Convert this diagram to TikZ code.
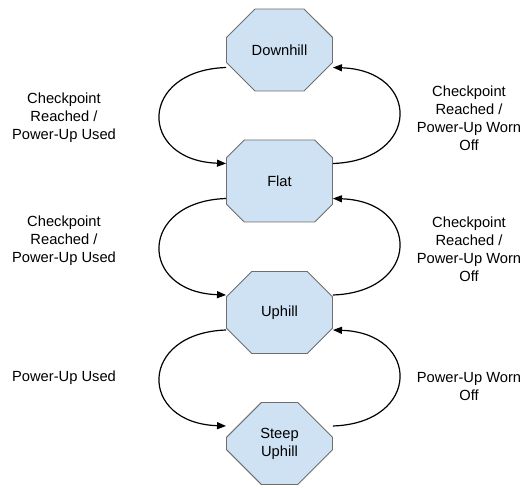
\documentclass[tikz,border=0pt]{standalone}
\usepackage{fontspec}
\setmainfont{Liberation Sans}
\usetikzlibrary{shapes.misc,arrows.meta}
\definecolor{statefill}{HTML}{CFE2F3}
\definecolor{stateedge}{HTML}{6E6E6E}
\begin{document}
\begin{tikzpicture}[x=1pt,y=1pt,
  state/.style={chamfered rectangle, chamfered rectangle xsep=23pt,
    chamfered rectangle ysep=23pt, minimum width=106pt, minimum height=82pt,
    inner sep=0pt, fill=statefill, draw=stateedge, line width=0.9pt,
    align=center, font=\fontsize{14.7}{18}\selectfont},
  lbl/.style={align=center, inner sep=0pt, font=\fontsize{14.7}{18}\selectfont},
  trans/.style={line width=1.2pt, -{Triangle[length=9pt,width=7pt]}}]
\useasboundingbox (0,0) rectangle (524,487);

% states
\node[state] (D) at (279.5,437) {Downhill};
\node[state] (F) at (279.5,306) {Flat};
\node[state] (U) at (279.5,174.5) {Uphill};
\node[state] (S) at (279.5,43.5) {Steep\\Uphill};

% transitions going down (left side)
\draw[trans] ([yshift=-17.5pt]D.west) .. controls +(-88,-3) and +(-88,3) .. ([yshift=17.5pt]F.west);
\draw[trans] ([yshift=-17.5pt]F.west) .. controls +(-88,-3) and +(-88,3) .. ([yshift=17.5pt]U.west);
\draw[trans] ([yshift=-17.5pt]U.west) .. controls +(-88,-3) and +(-88,3) .. ([yshift=17.5pt]S.west);

% transitions going up (right side)
\draw[trans] ([yshift=17.5pt]F.east) .. controls +(88,3) and +(88,-3) .. ([yshift=-17.5pt]D.east);
\draw[trans] ([yshift=17.5pt]U.east) .. controls +(88,3) and +(88,-3) .. ([yshift=-17.5pt]F.east);
\draw[trans] ([yshift=17.5pt]S.east) .. controls +(88,3) and +(88,-3) .. ([yshift=-17.5pt]U.east);

% transition labels
\node[lbl] (l1) at (64,369) {Checkpoint\\Reached /\\Power-Up Used};
\node[lbl] (r1) at (469,368.5) {Checkpoint\\Reached /\\Power-Up Worn\\Off};
\node[lbl] (l2) at (64,246) {Checkpoint\\Reached /\\Power-Up Used};
\node[lbl] (r2) at (469,237.5) {Checkpoint\\Reached /\\Power-Up Worn\\Off};
\node[lbl] (l3) at (64,109) {Power-Up Used};
\node[lbl] (r3) at (469,100) {Power-Up Worn\\Off};
\end{tikzpicture}
\end{document}
